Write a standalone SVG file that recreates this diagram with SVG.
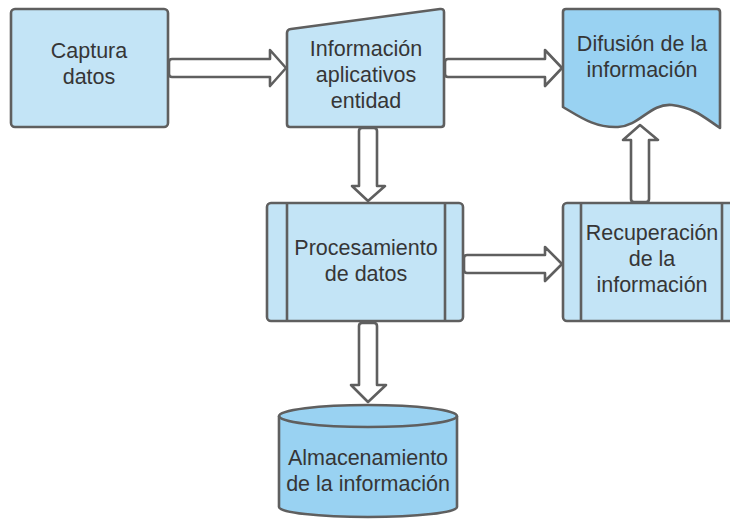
<svg xmlns="http://www.w3.org/2000/svg" width="730" height="519" viewBox="0 0 730 519">
<style>
.shape{stroke:#5f5f5f;stroke-width:2.6;stroke-linejoin:round}
.light{fill:#c3e4f6}
.dark{fill:#99d2f2}
.arrow{fill:#ffffff;stroke:#5f5f5f;stroke-width:2.6;stroke-linejoin:round}
.line{fill:none;stroke:#5f5f5f;stroke-width:2.6}
text{font-family:"Liberation Sans",Arial,sans-serif;font-size:21.5px;fill:#363636;text-anchor:middle}
</style>
<rect width="730" height="519" fill="#ffffff"/>
<g id="connectors">
<path class="arrow" d="M172,59 L270,59 L270,50 L286,68 L270,86 L270,77 L172,77 Q169,77 169,74 L169,62 Q169,59 172,59 Z"/>
<path class="arrow" d="M448,59 L545,59 L545,50 L562,68 L545,86 L545,77 L448,77 Q445,77 445,74 L445,62 Q445,59 448,59 Z"/>
<path class="arrow" d="M359,131 L359,186 L352,186 L368,201 L385,186 L377,186 L377,131 Q377,128 374,128 L362,128 Q359,128 359,131 Z"/>
<path class="arrow" d="M467,255 L545,255 L545,247 L562,264 L545,281 L545,273 L467,273 Q464,273 464,270 L464,258 Q464,255 467,255 Z"/>
<path class="arrow" d="M631,199 L631,140 L623,140 L640,125 L658,140 L649,140 L649,199 Q649,202 646,202 L634,202 Q631,202 631,199 Z"/>
<path class="arrow" d="M359,326 L359,385 L351,385 L368,402 L386,385 L377,385 L377,326 Q377,323 374,323 L362,323 Q359,323 359,326 Z"/>
</g>
<g id="captura">
<rect class="shape light" x="11" y="9" width="157" height="118" rx="4"/>
<text x="89" y="58">Captura</text>
<text x="89" y="84">datos</text>
</g>
<g id="informacion">
<path class="shape light" d="M291,29 L440,9 Q444,8.5 444,12 L444,124 Q444,127 441,127 L290,127 Q287,127 287,124 L287,33 Q287,29.5 291,29 Z"/>
<text x="366" y="56">Información</text>
<text x="366" y="82">aplicativos</text>
<text x="366" y="108">entidad</text>
</g>
<g id="difusion">
<path class="shape dark" d="M566,9 L717,9 Q720,9 720,12 L720,128 C705,118 695,108 672,105 C650,103 640,126 618,127 C595,128 580,117 563,107 L563,12 Q563,9 566,9 Z"/>
<text x="642" y="51">Difusión de la</text>
<text x="642" y="77">información</text>
</g>
<g id="procesamiento">
<rect class="shape light" x="267" y="203" width="196" height="118" rx="4"/>
<line class="line" x1="287" y1="203" x2="287" y2="321"/>
<line class="line" x1="445" y1="203" x2="445" y2="321"/>
<text x="366" y="255">Procesamiento</text>
<text x="366" y="281">de datos</text>
</g>
<g id="recuperacion">
<rect class="shape light" x="563" y="203" width="178" height="118" rx="4"/>
<line class="line" x1="581" y1="203" x2="581" y2="321"/>
<line class="line" x1="722" y1="203" x2="722" y2="321"/>
<text x="652" y="240">Recuperación</text>
<text x="652" y="266">de la</text>
<text x="652" y="292">información</text>
</g>
<g id="almacenamiento">
<path class="shape dark" d="M279,416 L279,507 A89,10 0 0 0 457,507 L457,416 A89,11 0 0 0 279,416 Z"/>
<path class="line" d="M279,416 A89,11 0 0 0 457,416"/>
<text x="368" y="465">Almacenamiento</text>
<text x="368" y="491">de la información</text>
</g>
</svg>
